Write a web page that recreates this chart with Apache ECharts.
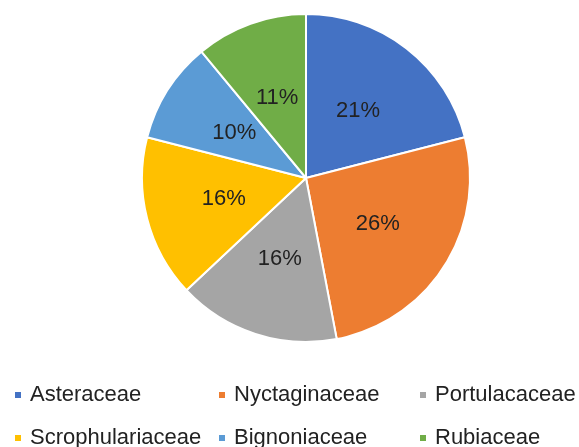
<!DOCTYPE html>
<html><head><meta charset="utf-8">
<script src="https://cdn.jsdelivr.net/npm/echarts@6/dist/echarts.min.js"></script>
<style>html,body{margin:0;padding:0;background:#fff}#c{width:579px;height:447px}</style>
</head><body><div id="c"></div>
<script>
const categories = ['Asteraceae','Nyctaginaceae','Portulacaceae','Scrophulariaceae','Bignoniaceae','Rubiaceae'];
const values = [21, 26, 16, 16, 10, 11];
const colors = ['#4472C4','#ED7D31','#A5A5A5','#FFC000','#5B9BD5','#70AD47'];
const font = 'Liberation Sans';
const chart = echarts.init(document.getElementById('c'));
const legLeft = [13, 217, 418, 13, 217, 418];
const legTop = [384, 384, 384, 427, 427, 427];
function leg(i){
  return {data:[categories[i]], left:legLeft[i], top:legTop[i], padding:0, itemWidth:8, itemHeight:8, icon:'rect',
    selectedMode:false, textStyle:{fontFamily:font, fontSize:22, color:'#222', padding:[0,0,0,3]}};
}
chart.setOption({
  animation:false,
  color: colors,
  legend: categories.map((n,i)=>leg(i)),
  series:[{
    type:'pie', center:[306,178], radius:[0,164], startAngle:90, clockwise:true,
    itemStyle:{borderColor:'#fff', borderWidth:2},
    label:{position:'inner', formatter:'{c}%', fontFamily:font, fontSize:22, color:'#222'},
    labelLine:{show:false},
    data: categories.map((n,i)=>({name:n, value:values[i]}))
  }]
});
</script></body></html>
